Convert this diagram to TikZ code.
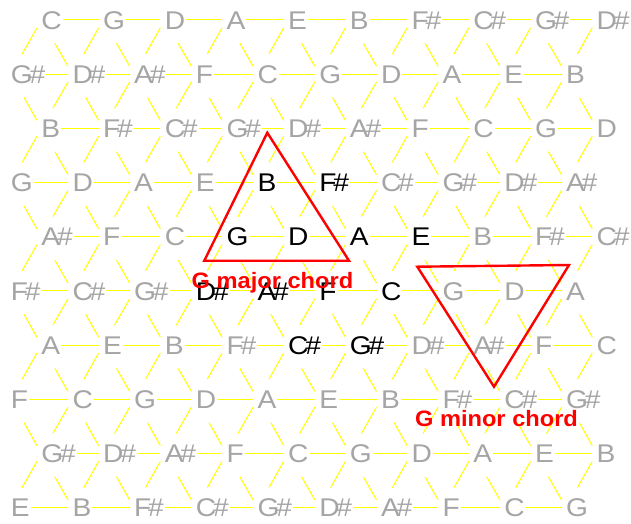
\documentclass[tikz,border=0pt]{standalone}
\usepackage{fontspec}
\newfontfamily\notefont[FakeStretch=1.1]{Liberation Sans}
\newfontfamily\labfont[FakeStretch=1.06]{Liberation Sans}
\newcommand\sh{\kern-3.2pt\#}
\definecolor{notegray}{RGB}{165,165,165}
\definecolor{lineyellow}{RGB}{255,255,0}
\definecolor{chordred}{RGB}{255,0,0}
\tikzset{
  note/.style={anchor=base west, inner sep=0pt, outer sep=0pt,
    font=\notefont\fontsize{25.6}{30}\selectfont},
  hline/.style={draw=lineyellow, line width=1pt, shorten <=1pt, shorten >=4.5pt},
  dlline/.style={draw=lineyellow, line width=1pt, shorten <=9.1pt, shorten >=23.1pt},
  drline/.style={draw=lineyellow, line width=1pt, shorten <=26.9pt, shorten >=9.1pt},
  chord/.style={draw=chordred, line width=2.4pt, line join=miter},
  chordlab/.style={anchor=base, inner sep=0pt, text=chordred,
    font=\labfont\bfseries\fontsize{22.3}{26}\selectfont}
}
\begin{document}
\begin{tikzpicture}[x=1pt,y=-1pt]
\useasboundingbox (0,0) rectangle (631,523);
\fill[white] (0,0) rectangle (631,523);
% notes
\foreach \rr/\notes in {
 0/{C,G,D,A,E,B,F\sh,C\sh,G\sh,D\sh},
 1/{G\sh,D\sh,A\sh,F,C,G,D,A,E,B},
 2/{B,F\sh,C\sh,G\sh,D\sh,A\sh,F,C,G,D},
 3/{G,D,A,E,B,F\sh,C\sh,G\sh,D\sh,A\sh},
 4/{A\sh,F,C,G,D,A,E,B,F\sh,C\sh},
 5/{F\sh,C\sh,G\sh,D\sh,A\sh,F,C,G,D,A},
 6/{A,E,B,F\sh,C\sh,G\sh,D\sh,A\sh,F,C},
 7/{F,C,G,D,A,E,B,F\sh,C\sh,G\sh},
 8/{G\sh,D\sh,A\sh,F,C,G,D,A,E,B},
 9/{E,B,F\sh,C\sh,G\sh,D\sh,A\sh,F,C,G}}{
  \foreach \nn [count=\cc from 0] in \notes {
    \pgfmathsetmacro\xx{41.4+61.7*\cc-30.6*mod(\rr,2)}
    \pgfmathsetmacro\yy{19.9+54.2*\rr}
    \pgfmathtruncatemacro\isblack{(((\rr==3)||(\rr==6))&&((\cc==4)||(\cc==5)))||(((\rr==4)||(\rr==5))&&(\cc>2)&&(\cc<7))}
    \ifnum\isblack=1 \def\ncol{black}\else\def\ncol{notegray}\fi
    \coordinate (p\rr-\cc) at (\xx,\yy);
    \node[note, text=\ncol] (n\rr-\cc) at (\xx,\yy+9.2) {\nn};
  }
}
% horizontal connectors
\foreach \rr in {0,...,9}{
  \foreach \cc in {0,...,8}{
    \pgfmathtruncatemacro\cn{\cc+1}
    \draw[hline] (n\rr-\cc.east |- p\rr-\cc) -- (p\rr-\cn);
  }
}
% diagonal connectors
\foreach \rr in {0,...,8}{
  \pgfmathtruncatemacro\rn{\rr+1}
  \foreach \cc in {0,...,9}{
    \ifodd\rr
      \pgfmathtruncatemacro\cl{\cc-1}
      \ifnum\cc>0 \draw[dlline] (p\rr-\cc) -- (p\rn-\cl);\fi
      \draw[drline] (p\rr-\cc) -- (p\rn-\cc);
    \else
      \pgfmathtruncatemacro\cr{\cc+1}
      \draw[dlline] (p\rr-\cc) -- (p\rn-\cc);
      \ifnum\cc<9 \draw[drline] (p\rr-\cc) -- (p\rn-\cr);\fi
    \fi
  }
}
% chord triangles
\coordinate (Mt) at (267.3,132.7);
\coordinate (Ml) at (204.3,260.7);
\coordinate (Mr) at (349,260.7);
\draw[chord] (Mt) -- (Ml) -- (Mr) -- cycle;
\coordinate (mL) at (417.3,266.7);
\coordinate (mR) at (569,265);
\coordinate (mB) at (494,386.7);
\draw[chord] (mL) -- (mR) -- (mB) -- cycle;
\node[chordlab] (labmaj) at (272.5,288.3) {G major chord};
\node[chordlab] (labmin) at (496.5,426.7) {G minor chord};
\end{tikzpicture}
\end{document}
